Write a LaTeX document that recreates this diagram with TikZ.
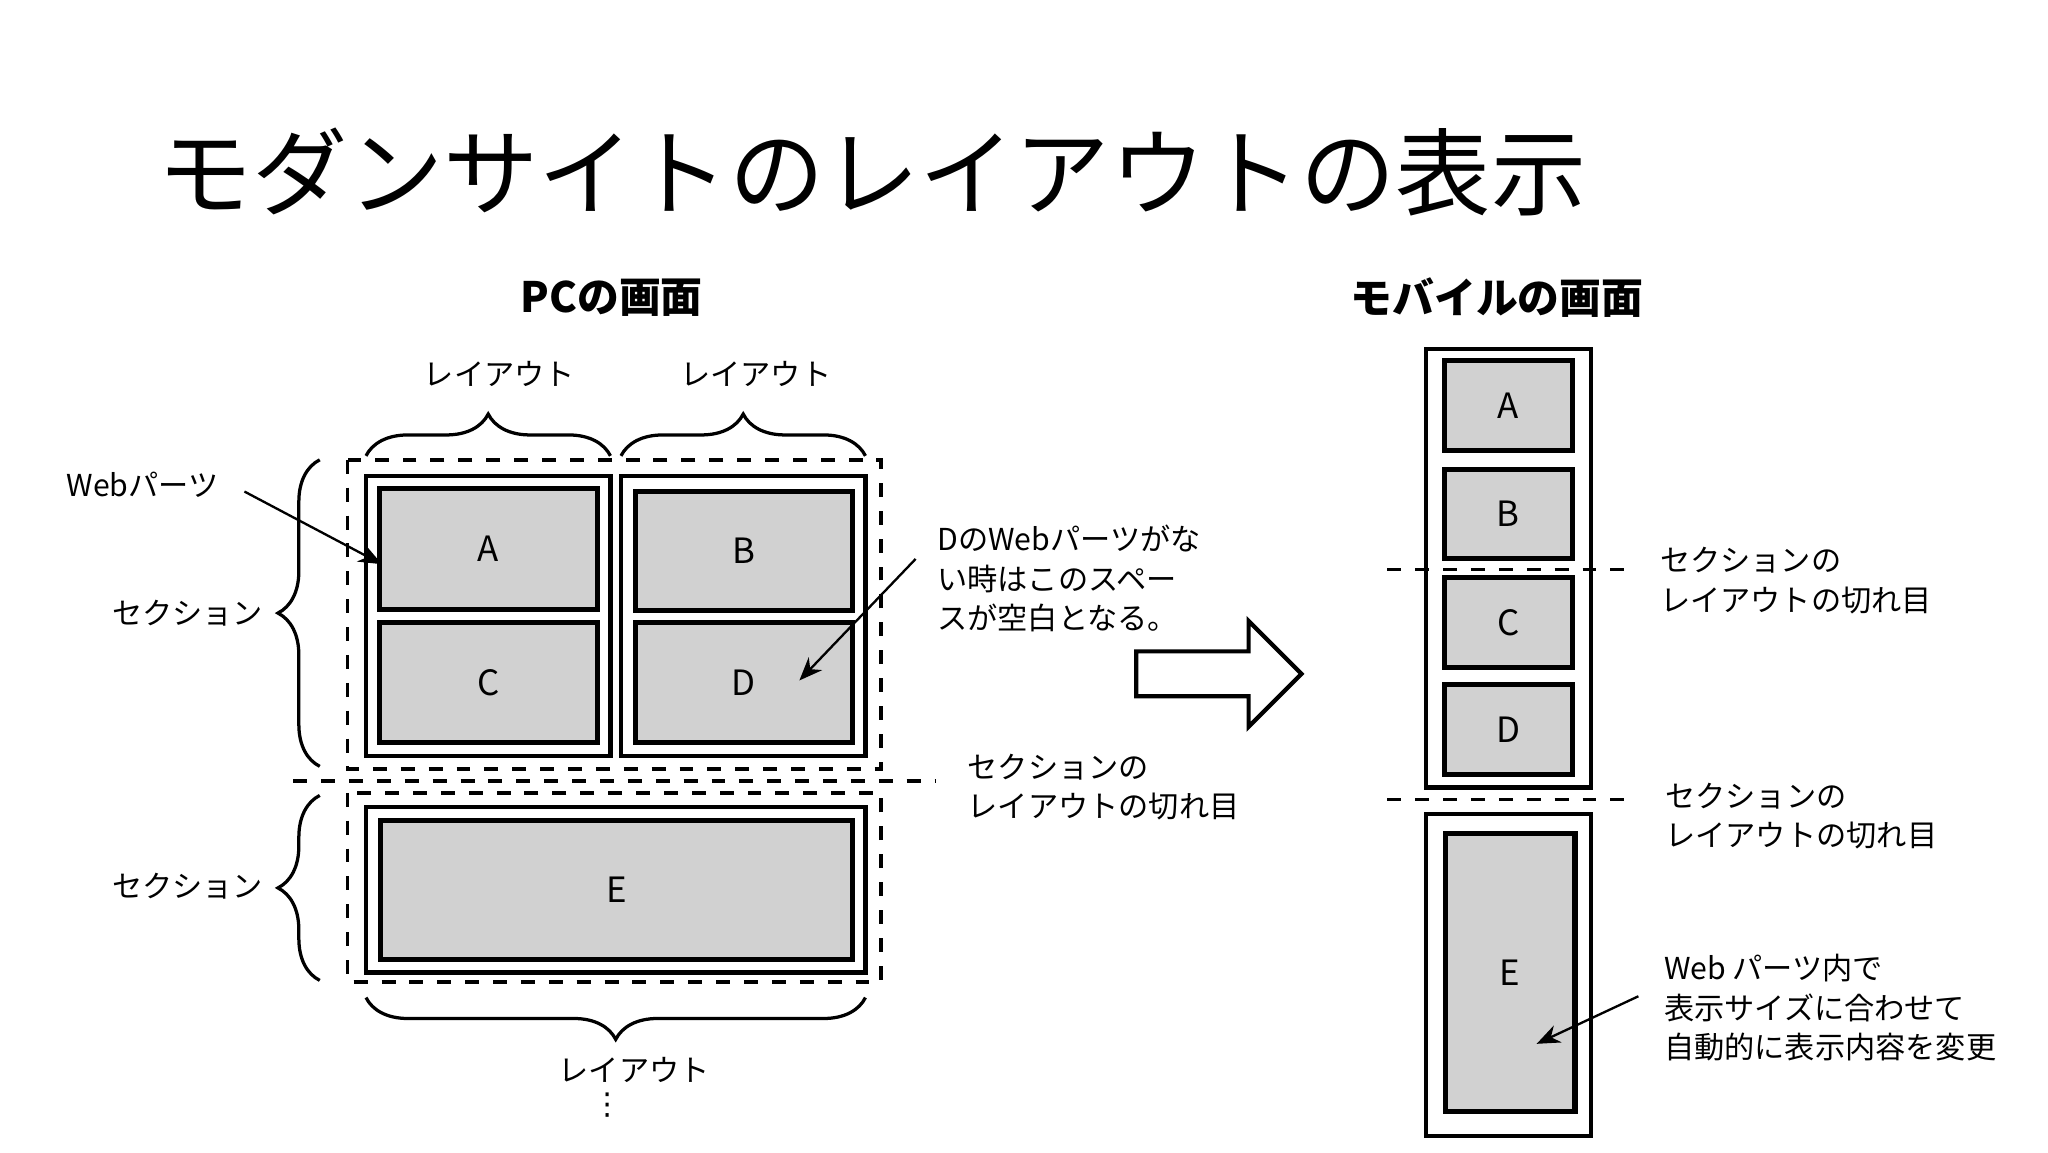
\documentclass[tikz,border=0pt]{standalone}
\usepackage{fontspec}
\setmainfont{Noto Sans CJK JP}
\newfontfamily\djv{DejaVu Sans}
\usetikzlibrary{decorations.pathreplacing,arrows.meta}
\tikzset{
 gbox/.style={draw,line width=1.1pt,fill=black!18},
 obox/.style={draw,line width=0.9pt},
 dbox/.style={draw,dashed,line width=0.8pt},
 lbl/.style={font=\fontsize{6.5pt}{8.5pt}\selectfont,align=left},
 brc/.style={decorate,decoration={brace,amplitude=9},line width=0.7pt},
 arr/.style={-{Stealth[length=5pt,width=4pt]},line width=0.5pt},
 big/.style={font=\fontsize{7.5pt}{9pt}\selectfont}
}
\begin{document}
\begin{tikzpicture}[x=0.01cm,y=-0.01cm]
\useasboundingbox (0,0) rectangle (1550,872);
\node (title) at (660,130) {\fontsize{20.5pt}{24pt}\selectfont モダンサイトのレイアウトの表示};
\node (pch) at (463,225) {\fontsize{9pt}{11pt}\selectfont\bfseries PCの画面};
\node (mbh) at (1133,225) {\fontsize{9pt}{11pt}\selectfont\bfseries モバイルの画面};
% PC
\draw[brc] (277,345) -- (462,345);
\draw[brc] (470,345) -- (655,345);
\node[lbl] (lay1) at (378,283) {レイアウト};
\node[lbl] (lay2) at (572,283) {レイアウト};
\draw[dbox] (263,348) rectangle (667,582);
\draw[obox] (277,360) rectangle (462,572);
\draw[obox] (470,360) rectangle (655,572);
\draw[gbox] (287,370) rectangle (452,461); \node[big] (A) at (369.5,415.5) {A};
\draw[gbox] (287,471) rectangle (452,562); \node[big] (C) at (369.5,516.5) {C};
\draw[gbox] (481,372) rectangle (645,462); \node[big] (B) at (563,417) {B};
\draw[gbox] (481,471) rectangle (645,562); \node[big] (D) at (563,516.5) {D};
\draw[dashed,line width=0.8pt] (222,591) coordinate (sep1a) -- (708,591) coordinate (sep1b);
\draw[dbox] (263,600) rectangle (667,743);
\draw[obox] (277,611) rectangle (655,736);
\draw[gbox] (288,621) rectangle (645,726); \node[big] (E) at (466.5,673.5) {E};
\draw[brc] (242,580) -- (242,348);
\draw[brc] (242,742) -- (242,602);
\node[lbl] (sec1) at (142,464) {セクション};
\node[lbl] (sec2) at (142,671) {セクション};
\draw[brc] (655,755) -- (277,755);
\node[lbl] (lay3) at (480,810) {レイアウト};
\node[lbl] (dots) at (460,836) {\djv ⋮};
\node[lbl] (wp) at (108,367) {Webパーツ};
\coordinate (wpt) at (289,427);
\draw[arr] (185,372) -- (wpt);
\node[lbl,anchor=north west] (dnote) at (697,385) {DのWebパーツがな\\い時はこのスペー\\スが空白となる。};
\coordinate (dpt) at (605,515);
\draw[arr] (693,423) -- (dpt);
\node[lbl,anchor=north west] (cut1) at (720,558) {セクションの\\レイアウトの切れ目};
% big arrow
\draw[line width=0.9pt,fill=white] (860,493) -- (945,493) -- (945,470) -- (985,510) -- (945,550) -- (945,527) -- (860,527) -- cycle;
% mobile
\draw[obox] (1079,264) rectangle (1204,596);
\draw[obox] (1079,616) rectangle (1204,860);
\foreach \n/\y in {A/273,B/355,C/437,D/518}{
 \draw[gbox] (1093,\y) rectangle (1190,\y+68);
 \node[big] (m\n) at (1141.5,\y+34) {\n};
}
\draw[gbox] (1094,631) rectangle (1192,841); \node[big] (mE) at (1143,736) {E};
\draw[dashed,line width=0.8pt] (1050,431) coordinate (ma) -- (1238,431) coordinate (mb);
\draw[dashed,line width=0.8pt] (1050,605) coordinate (mc) -- (1238,605) coordinate (md);
\node[lbl,anchor=north west] (cut2) at (1244,402) {セクションの\\レイアウトの切れ目};
\node[lbl,anchor=north west] (cut3) at (1248,580) {セクションの\\レイアウトの切れ目};
\node[lbl,anchor=north west] (enote) at (1247,710) {Web パーツ内で\\表示サイズに合わせて\\自動的に表示内容を変更};
\coordinate (ept) at (1163,790);
\draw[arr] (1240,754) -- (ept);
\end{tikzpicture}
\end{document}
